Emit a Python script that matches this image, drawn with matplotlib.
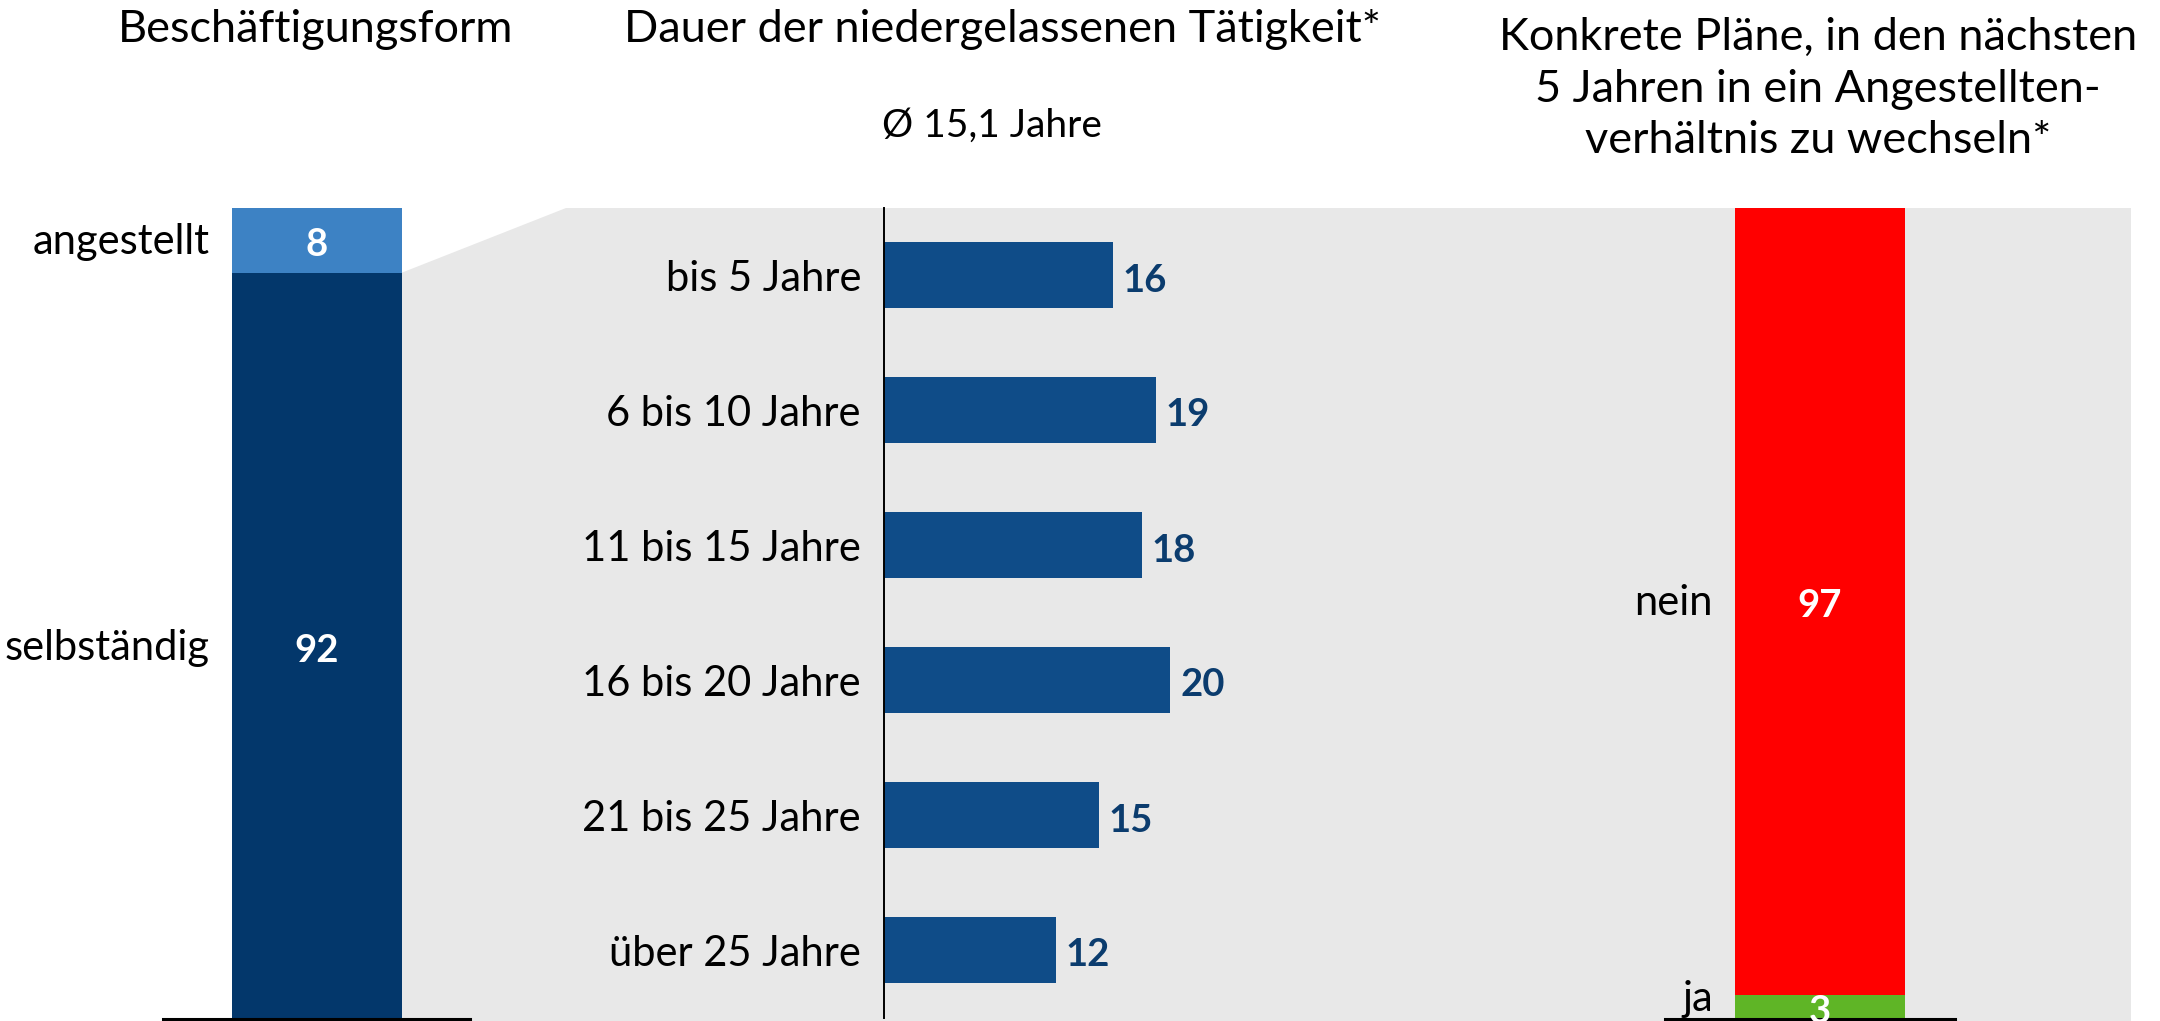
import matplotlib

matplotlib.use("Agg")
import matplotlib.pyplot as plt
from matplotlib.patches import Polygon

plt.rcParams["font.family"] = ["Lato", "DejaVu Sans"]

# --- data ---
form_labels = ["selbständig", "angestellt"]
form_values = [92, 8]

dauer_labels = ["bis 5 Jahre", "6 bis 10 Jahre", "11 bis 15 Jahre",
                "16 bis 20 Jahre", "21 bis 25 Jahre", "über 25 Jahre"]
dauer_values = [16, 19, 18, 20, 15, 12]

plan_labels = ["ja", "nein"]
plan_values = [3, 97]

titles = ["Beschäftigungsform",
          "Dauer der niedergelassenen Tätigkeit*",
          "Konkrete Pläne, in den nächsten\n5 Jahren in ein Angestellten-\nverhältnis zu wechseln*"]
subtitle = "Ø 15,1 Jahre"

# --- style ---
W, H = 2160, 1021
GRAY = "#e8e8e8"
DARK = "#03376b"
LIGHT = "#3d82c4"
MID = "#0f4c88"
NAVY = "#0b3c6e"
RED = "#ff0000"
GREEN = "#5fb526"
PX = 72 / 100  # points per pixel
FS_TITLE = 32.5
FS_LABEL = 30
FS_VALUE = 27.5
DROP = -5 * PX  # nudge value labels down a touch


def rect(x0, y0, x1, y1):
    """Pixel box (top-left origin) -> figure fraction rect."""
    return [x0 / W, 1 - y1 / H, (x1 - x0) / W, (y1 - y0) / H]


fig = plt.figure(figsize=(W / 100, H / 100), dpi=100)

# gray backdrop with the slanted connector from the "angestellt" segment
bg = Polygon([(401 / W, 1 - 273 / H), (566 / W, 1 - 208 / H), (2131 / W, 1 - 208 / H),
              (2131 / W, 0), (401 / W, 0)],
             closed=True, transform=fig.transFigure, facecolor=GRAY,
             edgecolor="none", zorder=-1)
fig.patches.append(bg)

# --- left: Beschäftigungsform ---
ax_l = fig.add_axes(rect(163, 208, 470, 1019))
bw_l = 170 / 307
bottom = 0
for lab, val, col in zip(form_labels, form_values, [DARK, LIGHT]):
    ax_l.bar(0, val, bottom=bottom, width=bw_l, color=col, zorder=2)
    ax_l.annotate(str(val), (0, bottom + val / 2), xytext=(0, DROP),
                  textcoords="offset points", ha="center", va="center",
                  color="white", fontsize=FS_VALUE, fontweight="bold", zorder=3)
    ax_l.annotate(lab, (-bw_l / 2, bottom + val / 2), xytext=(-22 * PX, -2 * PX),
                  textcoords="offset points", ha="right", va="center",
                  fontsize=FS_LABEL, annotation_clip=False)
    bottom += val
ax_l.set_xlim(-0.5, 0.5)
ax_l.set_ylim(0, 100)

# --- middle: Dauer ---
ax_m = fig.add_axes(rect(884, 208, 1400, 1018))
ypos = list(range(len(dauer_values)))
ax_m.barh(ypos, dauer_values, height=66 / 135, color=MID, zorder=2)
for y, v in zip(ypos, dauer_values):
    ax_m.annotate(str(v), (v, y), xytext=(10 * PX, DROP), textcoords="offset points",
                  ha="left", va="center", color=NAVY, fontsize=FS_VALUE,
                  fontweight="bold")
ax_m.set_ylim(len(dauer_values) - 0.5, -0.5)
ax_m.set_xlim(0, 516 / 14.31)
ax_m.set_yticks(ypos)
ax_m.set_yticklabels(dauer_labels, fontsize=FS_LABEL)
ax_m.tick_params(axis="y", length=0, pad=23 * PX)
ax_m.set_xticks([])

# --- right: Pläne ---
ax_r = fig.add_axes(rect(1665, 208, 1955, 1019))
bw_r = 170 / 290
xc = 10 / 290
bottom = 0
for lab, val, col in zip(plan_labels, plan_values, [GREEN, RED]):
    ax_r.bar(xc, val, bottom=bottom, width=bw_r, color=col, zorder=2)
    ax_r.annotate(str(val), (xc, bottom + val / 2), xytext=(0, DROP),
                  textcoords="offset points", ha="center", va="center",
                  color="white", fontsize=FS_VALUE, fontweight="bold", zorder=3,
                  annotation_clip=False)
    ax_r.annotate(lab, (xc - bw_r / 2, bottom + val / 2),
                  xytext=(-22 * PX, 8 * PX if val < 10 else -2 * PX),
                  textcoords="offset points", ha="right", va="center",
                  fontsize=FS_LABEL, annotation_clip=False)
    bottom += val
ax_r.set_xlim(-0.5, 0.5)
ax_r.set_ylim(0, 100)

for ax in (ax_l, ax_m, ax_r):
    ax.set_facecolor("none")
for ax in (ax_l, ax_r):
    for side in ("top", "right", "left"):
        ax.spines[side].set_visible(False)
    ax.spines["bottom"].set_linewidth(2.2)
    ax.set_xticks([])
    ax.set_yticks([])

for side in ("top", "right", "bottom"):
    ax_m.spines[side].set_visible(False)
ax_m.spines["left"].set_linewidth(1.4)

# --- titles ---
fig.text(316 / W, 1 - 30 / H, titles[0], ha="center", va="center", fontsize=FS_TITLE)
fig.text(1003 / W, 1 - 30 / H, titles[1], ha="center", va="center", fontsize=FS_TITLE)
fig.text(992 / W, 1 - 126 / H, subtitle, ha="center", va="center", fontsize=28)
fig.text(1818 / W, 1 - 89 / H, titles[2], ha="center", va="center", fontsize=FS_TITLE,
         linespacing=1.33)

fig.savefig("out.png", dpi=100)
